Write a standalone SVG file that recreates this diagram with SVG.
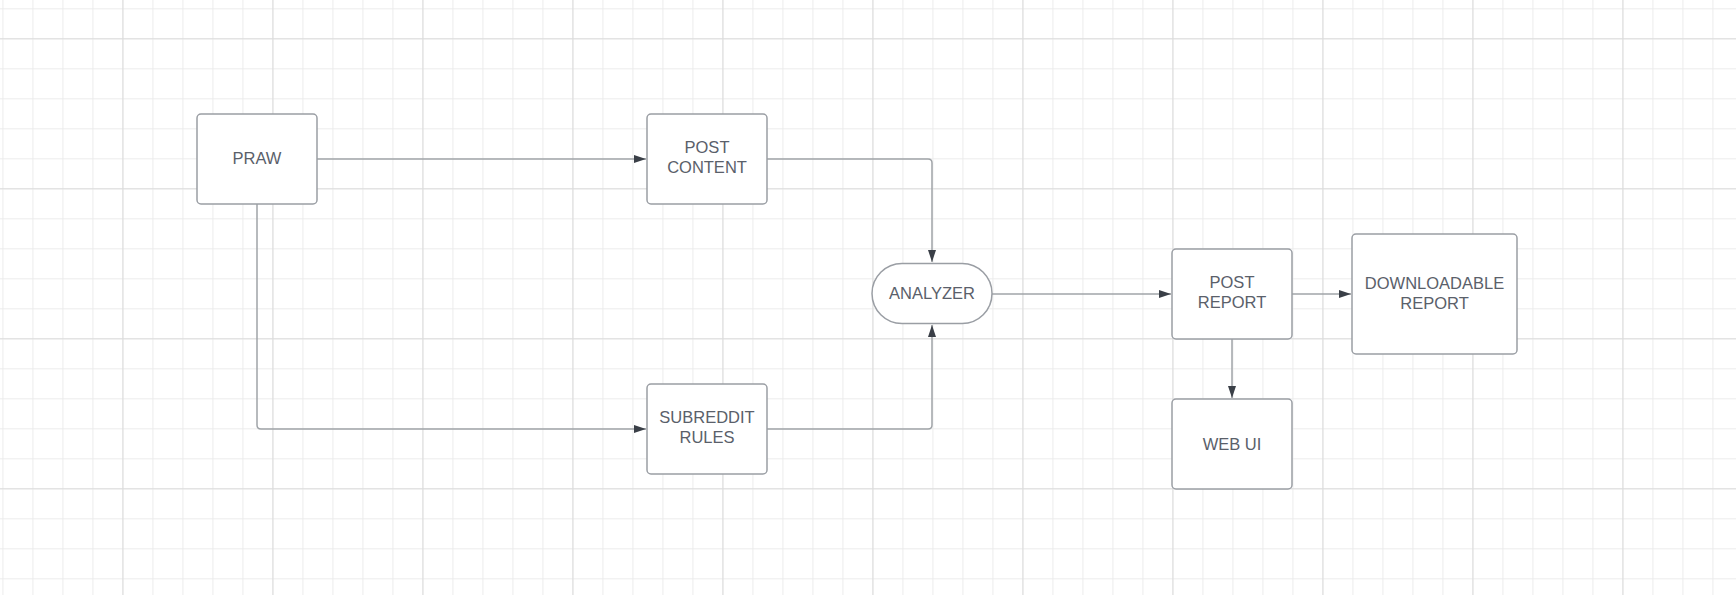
<svg xmlns="http://www.w3.org/2000/svg" width="1736" height="595" viewBox="0 0 1736 595">
<defs>
<pattern id="minor" x="2.4" y="8.3" width="30" height="30" patternUnits="userSpaceOnUse">
<path d="M0.5 0V30M0 0.5H30" fill="none" stroke="#ececec" stroke-width="1"/>
</pattern>
<pattern id="major" x="122.4" y="38.3" width="150" height="150" patternUnits="userSpaceOnUse">
<path d="M0.5 0V150M0 0.5H150" fill="none" stroke="#dcdcdc" stroke-width="1"/>
</pattern>
<marker id="arr" viewBox="0 0 12 8" refX="12" refY="4" markerWidth="12" markerHeight="8" markerUnits="userSpaceOnUse" orient="auto">
<path d="M0 0L12 4L0 8Z" fill="#3a3f47"/>
</marker>
</defs>
<style>
.node{fill:#ffffff;stroke:#9a9ea4;stroke-width:1.5}
.lbl{font-family:"Liberation Sans",Arial,sans-serif;font-size:16.5px;fill:#5a606a;text-anchor:middle}
.edge{fill:none;stroke:#a0a4a8;stroke-width:1.5;marker-end:url(#arr)}
</style>
<rect width="1736" height="595" fill="#ffffff"/>
<rect width="1736" height="595" fill="url(#minor)"/>
<rect width="1736" height="595" fill="url(#major)"/>
<g id="connectors">
<path class="edge" d="M317 159H646"/>
<path class="edge" d="M767 159H928Q932 159 932 163V262"/>
<path class="edge" d="M257 204V425Q257 429 261 429H646"/>
<path class="edge" d="M767 429H928Q932 429 932 425V325"/>
<path class="edge" d="M992 294H1171"/>
<path class="edge" d="M1292 294H1351"/>
<path class="edge" d="M1232 339V398"/>
</g>
<g id="praw">
<rect class="node" x="197" y="114" width="120" height="90" rx="4"/>
<text class="lbl" x="257" y="164">PRAW</text>
</g>
<g id="post-content">
<rect class="node" x="647" y="114" width="120" height="90" rx="4"/>
<text class="lbl" x="707" y="153">POST</text>
<text class="lbl" x="707" y="173">CONTENT</text>
</g>
<g id="subreddit-rules">
<rect class="node" x="647" y="384" width="120" height="90" rx="4"/>
<text class="lbl" x="707" y="423">SUBREDDIT</text>
<text class="lbl" x="707" y="443">RULES</text>
</g>
<g id="analyzer">
<rect class="node" x="872" y="263.5" width="120" height="60" rx="30"/>
<text class="lbl" x="932" y="299">ANALYZER</text>
</g>
<g id="post-report">
<rect class="node" x="1172" y="249" width="120" height="90" rx="4"/>
<text class="lbl" x="1232" y="288">POST</text>
<text class="lbl" x="1232" y="308">REPORT</text>
</g>
<g id="downloadable-report">
<rect class="node" x="1352" y="234" width="165" height="120" rx="4"/>
<text class="lbl" x="1434.5" y="289">DOWNLOADABLE</text>
<text class="lbl" x="1434.5" y="309">REPORT</text>
</g>
<g id="web-ui">
<rect class="node" x="1172" y="399" width="120" height="90" rx="4"/>
<text class="lbl" x="1232" y="449.5">WEB UI</text>
</g>
</svg>
